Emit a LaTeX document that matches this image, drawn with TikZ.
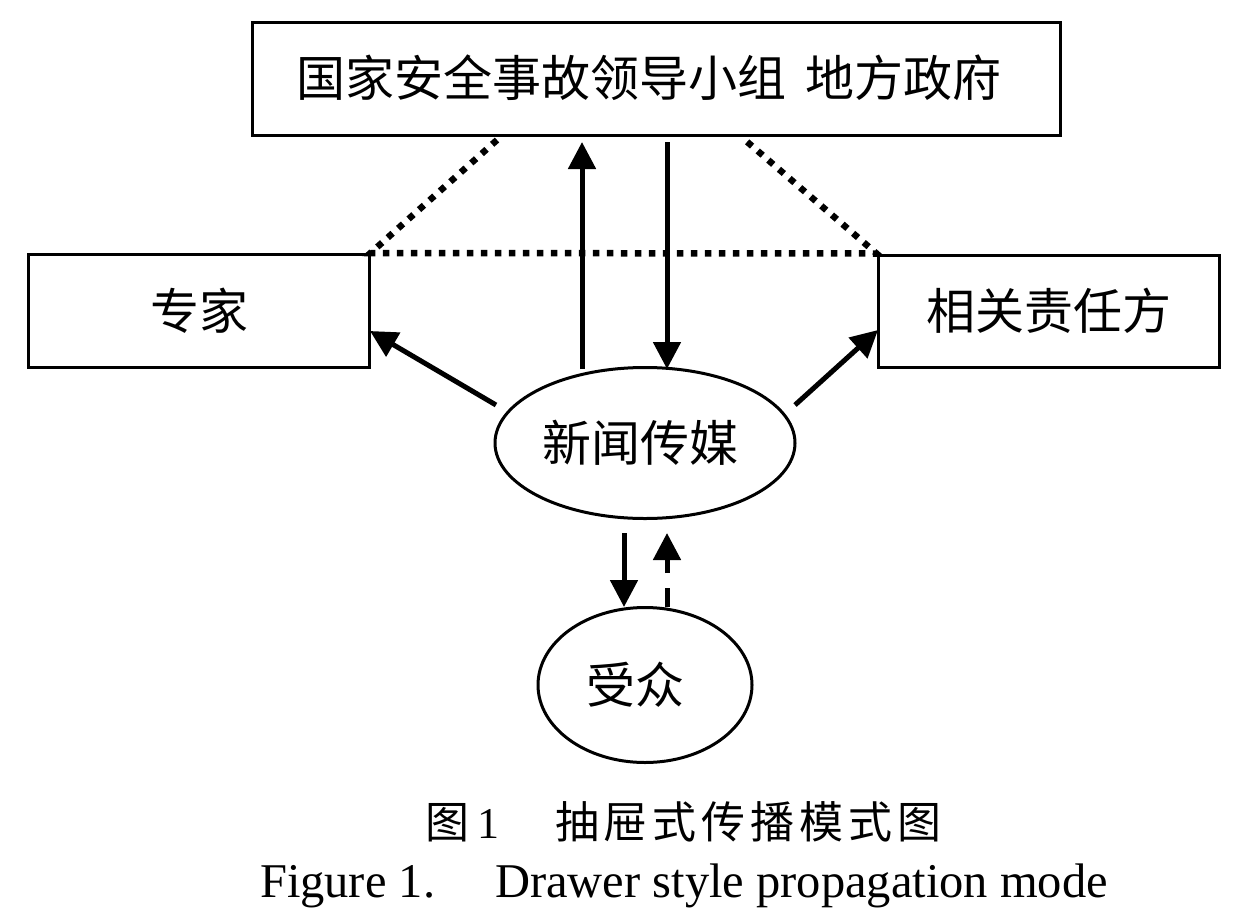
\documentclass[tikz,border=0pt]{standalone}
\usepackage{fontspec}
\setmainfont{Liberation Serif}
\newfontfamily\cjk{Noto Sans CJK SC}
\usetikzlibrary{arrows.meta,shapes.geometric}
\newcommand{\cs}{\hspace{5pt}}
\begin{document}
\begin{tikzpicture}[x=1pt,y=-1pt,
  box/.style={draw,line width=3pt,inner sep=0pt},
  oval/.style={draw,ellipse,line width=3pt,inner sep=0pt},
  lab/.style={font=\cjk\fontsize{49}{52}\selectfont},
  tip/.style={-{Triangle[length=27pt,width=27pt]}},
  arr/.style={line width=5pt,tip},
  dots/.style={line width=6.5pt,dash pattern=on 6.5pt off 7.5pt}]
\useasboundingbox (0,0) rectangle (1258,919);
\node[box,minimum width=808pt,minimum height=113pt] (top) at (656,79) {};
\node[lab] (toplab) at (649,78) {国家安全事故领导小组\hspace{20pt}地方政府};
\node[box,minimum width=341pt,minimum height=113pt] (exp) at (198.5,311) {};
\node[lab] (explab) at (199,311) {专家};
\node[box,minimum width=341pt,minimum height=112pt] (resp) at (1048.5,311) {};
\node[lab] (resplab) at (1049,311) {相关责任方};
\node[oval,minimum width=300pt,minimum height=151pt] (media) at (645,443) {};
\node[lab] (medialab) at (640,443) {新闻传媒};
\node[oval,minimum width=214pt,minimum height=155pt] (aud) at (645,685) {};
\node[lab] (audlab) at (635,685) {受众};
\node[font=\cjk\fontsize{44}{48}\selectfont] (cap1) at (683.5,822) {图\hspace{8pt}{\rmfamily 1}\hspace{56pt}抽\cs 屉\cs 式\cs 传\cs 播\cs 模\cs 式\cs 图};
\node[font=\fontsize{48.5}{52}\selectfont] (cap2) at (684,886) {Figure 1.\hspace{60pt}Drawer style propagation mode};
% connector end points
\coordinate (ua) at (582,369);
\coordinate (ub) at (582,142);
\coordinate (da) at (667,142);
\coordinate (db) at (667,369);
\coordinate (la) at (496,405);
\coordinate (lb) at (370,331);
\coordinate (ra) at (795,405);
\coordinate (rb) at (878,330);
\coordinate (ma) at (624,533);
\coordinate (mb) at (624,607);
\coordinate (na) at (667,607);
\coordinate (nb) at (667,533);
\coordinate (d1) at (497,140);
\coordinate (d2) at (745,140);
\draw[arr] (ua) -- (ub);
\draw[arr] (da) -- (db);
\draw[arr] (la) -- (lb);
\draw[arr] (ra) -- (rb);
\draw[arr] (ma) -- (mb);
\draw[line width=5pt,dash pattern=on 19pt off 15pt,tip] (na) -- (nb);
\draw[dots] (d1) -- (exp.north east) -- (resp.north west) -- (d2);
\end{tikzpicture}
\end{document}
